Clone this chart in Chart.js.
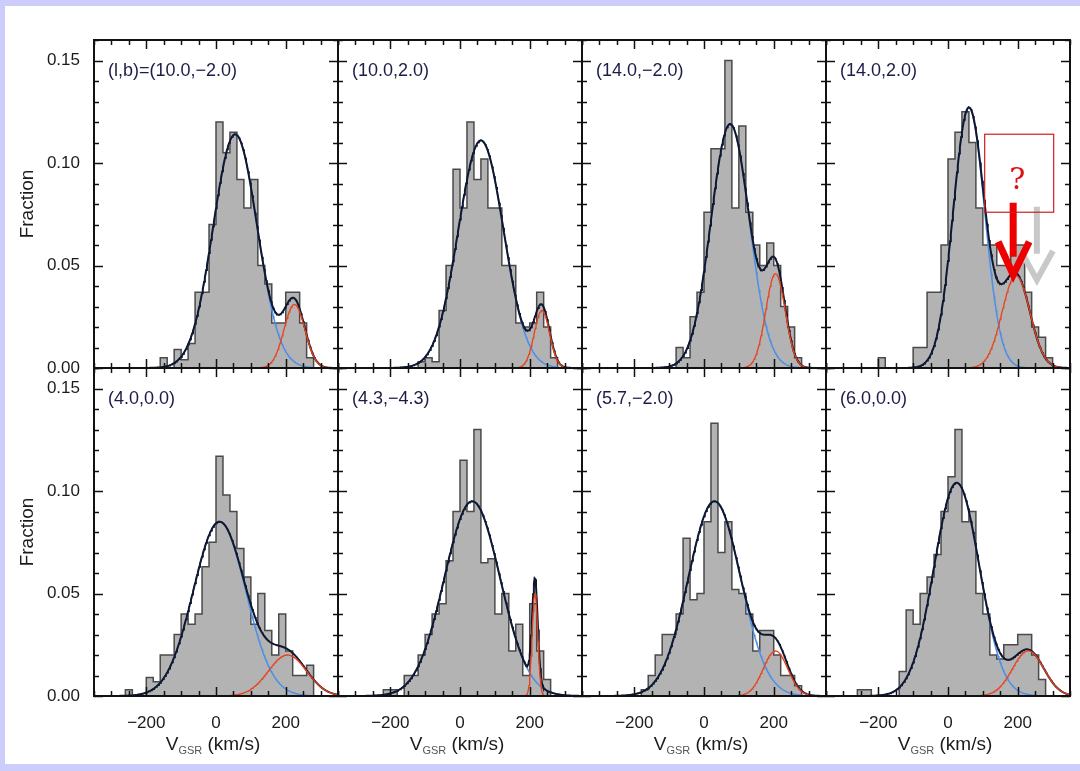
<!DOCTYPE html>
<html>
<head>
<meta charset="utf-8">
<script src="https://cdn.jsdelivr.net/npm/chart.js@4.4.0/dist/chart.umd.min.js"></script>
<style>
html, body { margin: 0; padding: 0; background: #cdcdfb; width: 1080px; height: 771px; overflow: hidden; }
#sheet { position: absolute; left: 5px; top: 6px; width: 1075px; height: 758px; background: #fff; }
canvas { position: absolute; }
</style>
</head>
<body>
<div id="sheet"></div>
<script>
// velocity histograms (fraction per 20 km/s bin) and two-gaussian fits per field
const binWidth = 20;
const fieldLabels = ['(l,b)=(10.0,\u22122.0)', '(10.0,2.0)', '(14.0,\u22122.0)', '(14.0,2.0)',
                     '(4.0,0.0)', '(4.3,\u22124.3)', '(5.7,\u22122.0)', '(6.0,0.0)'];
const histStart = [-160, -120, -100, -200, -260, -220, -180, -260];

const hist1 = [0.005, 0, 0.009, 0.004, 0.012, 0.037, 0.037, 0.07, 0.12, 0.105, 0.115, 0.092, 0.078, 0.092, 0.05, 0.041, 0.022, 0.022, 0.037, 0.037, 0.022, 0.005];
const hist2 = [0.003, 0.005, 0.003, 0.028, 0.05, 0.097, 0.078, 0.12, 0.092, 0.102, 0.078, 0.078, 0.05, 0.05, 0.022, 0.02, 0.022, 0.037, 0.02, 0.005];
const hist3 = [0, 0.01, 0.005, 0.025, 0.037, 0.076, 0.107, 0.107, 0.15, 0.078, 0.118, 0.076, 0.06, 0.05, 0.061, 0.05, 0.03, 0.02, 0.005];
const hist4 = [0.005, 0, 0, 0, 0, 0.01, 0.01, 0.037, 0.037, 0.06, 0.102, 0.115, 0.125, 0.11, 0.078, 0.06, 0.06, 0.05, 0.05, 0.06, 0.06, 0.037, 0.02, 0.015, 0.005];
const hist5 = [0.003, 0, 0, 0.009, 0.007, 0.02, 0.02, 0.03, 0.04, 0.035, 0.04, 0.063, 0.075, 0.117, 0.098, 0.09, 0.072, 0.058, 0.035, 0.05, 0.032, 0.02, 0.04, 0.022, 0.01, 0.01, 0.015];
const hist6 = [0.003, 0.003, 0, 0.01, 0.01, 0.02, 0.03, 0.04, 0.045, 0.066, 0.09, 0.115, 0.09, 0.13, 0.065, 0.067, 0.04, 0.05, 0.022, 0.035, 0.01, 0.045, 0.022, 0.008];
const hist7 = [0.003, 0.01, 0.02, 0.03, 0.03, 0.04, 0.077, 0.047, 0.05, 0.085, 0.133, 0.07, 0.085, 0.052, 0.05, 0.04, 0.022, 0.032, 0.032, 0.02, 0.01, 0.01, 0.005];
const hist8 = [0.003, 0.003, 0, 0, 0, 0, 0.012, 0.042, 0.035, 0.05, 0.058, 0.069, 0.09, 0.107, 0.13, 0.085, 0.09, 0.05, 0.04, 0.02, 0.018, 0.025, 0.025, 0.03, 0.03, 0.02, 0.008];
const hists = [hist1, hist2, hist3, hist4, hist5, hist6, hist7, hist8];

// [peak fraction, mean km/s, sigma km/s]
const bulgeFit = [[0.114, 55, 63], [0.111, 60, 65], [0.119, 75, 55], [0.127, 60, 45],
                  [0.085, 10, 75], [0.095, 35, 80], [0.095, 30, 75], [0.104, 25, 65]];
const fastFit  = [[0.031, 225, 30], [0.028, 235, 22], [0.046, 205, 28], [0.045, 195, 40],
                  [0.020, 205, 55], [0.050, 215, 8], [0.022, 205, 35], [0.022, 230, 45]];

const xTicks = [-200, 0, 200];
const yTicks = [0, 0.05, 0.10, 0.15];

// arrow tips on the (14.0,2.0) field, in km/s and fraction
const questionTip = [187, 0.0455];
const ghostTip = [255, 0.043];

const colLeft = [94, 338, 582, 826];
const rowTop = [40, 368];
const plotW = 244, plotH = 328;
const ink = '#1b1b1b';
const sans = '"Liberation Sans", Arial, sans-serif';

const gauss = (p, v) => p[0] * Math.exp(-0.5 * Math.pow((v - p[1]) / p[2], 2));
const curveX = [];
for (let v = -350; v <= 350; v += 2) curveX.push(v);

const framePlugin = {
  id: 'frame',
  afterDatasetsDraw(chart, args, opts) {
    const { ctx, chartArea: a, scales: { x, y } } = chart;
    ctx.save();
    ctx.strokeStyle = '#111';
    ctx.lineWidth = 1.5;
    ctx.beginPath();
    for (let v = -350; v <= 350; v += 50) {
      const px = Math.round(x.getPixelForValue(v)) + 0.5;
      const len = xTicks.includes(v) ? 9 : 5;
      ctx.moveTo(px, a.bottom); ctx.lineTo(px, a.bottom - len);
      ctx.moveTo(px, a.top); ctx.lineTo(px, a.top + len);
    }
    for (let k = 0; k <= 16; k++) {
      const py = Math.round(y.getPixelForValue(k / 100)) + 0.5;
      const len = k % 5 === 0 ? 9 : 5;
      ctx.moveTo(a.left, py); ctx.lineTo(a.left + len, py);
      ctx.moveTo(a.right, py); ctx.lineTo(a.right - len, py);
    }
    ctx.stroke();
    ctx.lineWidth = 2;
    ctx.strokeRect(a.left, a.top, a.right - a.left, a.bottom - a.top);

    ctx.fillStyle = '#1c1c48';
    ctx.font = '18px ' + sans;
    ctx.textBaseline = 'alphabetic';
    ctx.fillText(opts.label, a.left + 14, a.top + 36);

    if (opts.xTitle) {
      const big = '19px ' + sans, small = '11px ' + sans;
      ctx.fillStyle = ink;
      ctx.font = big; const wV = ctx.measureText('V').width;
      const wU = ctx.measureText(' (km/s)').width;
      ctx.font = small; const wS = ctx.measureText('GSR').width;
      let tx = (a.left + a.right) / 2 - (wV + wS + wU) / 2 - 3;
      const ty = a.bottom + 54;
      ctx.font = big; ctx.fillText('V', tx, ty); tx += wV;
      ctx.font = small; ctx.fillStyle = '#555'; ctx.fillText('GSR', tx, ty + 4); tx += wS;
      ctx.font = big; ctx.fillStyle = ink; ctx.fillText(' (km/s)', tx, ty);
    }
    ctx.restore();
  }
};

// question box and arrows over the high-velocity peak
const markPlugin = {
  id: 'mark',
  afterDraw(chart, args, opts) {
    if (!opts.on) return;
    const { ctx, scales: { x, y } } = chart;
    const rx = x.getPixelForValue(questionTip[0]), ry = y.getPixelForValue(questionTip[1]);
    const gx = x.getPixelForValue(ghostTip[0]), gy = y.getPixelForValue(ghostTip[1]);
    ctx.save();
    ctx.lineCap = 'butt';
    ctx.strokeStyle = '#c8c8c8';
    ctx.lineWidth = 6;
    ctx.beginPath();
    ctx.moveTo(gx, gy - 73); ctx.lineTo(gx, gy - 26);
    ctx.moveTo(gx - 15, gy - 27); ctx.lineTo(gx, gy); ctx.lineTo(gx + 16, gy - 29);
    ctx.stroke();

    ctx.strokeStyle = '#ee0000';
    ctx.lineWidth = 7;
    ctx.beginPath();
    ctx.moveTo(rx, ry - 72); ctx.lineTo(rx, ry - 18);
    ctx.moveTo(rx - 15, ry - 33); ctx.lineTo(rx, ry); ctx.lineTo(rx + 16, ry - 33);
    ctx.stroke();

    ctx.strokeStyle = '#cc1f1f';
    ctx.lineWidth = 1.2;
    ctx.strokeRect(rx - 28.5, ry - 140.5, 69, 78);
    ctx.fillStyle = '#e01010';
    ctx.font = '30px "DejaVu Serif", "Liberation Serif", serif';
    ctx.textAlign = 'center';
    ctx.fillText('?', rx + 4, ry - 86);
    ctx.restore();
  }
};

for (let i = 0; i < 8; i++) {
  const c = i % 4, r = i >> 2;
  const L = colLeft[c], T = rowTop[r];
  const cl = c === 0 ? 0 : L - 4;
  const ct = T - 4;
  const cr = L + plotW + 4;
  // left column keeps room below the plot so the 0.00 label is not cut
  const cb = r === 1 ? 771 : T + plotH + (c === 0 ? 14 : 4);

  const cv = document.createElement('canvas');
  cv.width = cr - cl; cv.height = cb - ct;
  cv.style.left = cl + 'px'; cv.style.top = ct + 'px';
  cv.style.width = (cr - cl) + 'px'; cv.style.height = (cb - ct) + 'px';
  document.body.appendChild(cv);

  const h = hists[i];
  const steps = [{ x: histStart[i], y: 0 }];
  h.forEach((f, k) => steps.push({ x: histStart[i] + k * binWidth, y: f }));
  steps.push({ x: histStart[i] + h.length * binWidth, y: 0 });

  const line = (fn, color, w, order) => ({
    data: curveX.map(v => ({ x: v, y: fn(v) })),
    borderColor: color, borderWidth: w, pointRadius: 0, fill: false, tension: 0, order
  });

  new Chart(cv, {
    type: 'line',
    data: {
      datasets: [
        { data: steps, stepped: 'before', fill: 'origin', backgroundColor: '#b3b3b3',
          borderColor: '#4a4a4a', borderWidth: 1.5, pointRadius: 0, order: 4 },
        line(v => gauss(bulgeFit[i], v), '#4d8fe6', 1.5, 3),
        line(v => gauss(bulgeFit[i], v) + gauss(fastFit[i], v), '#101830', 2, 2),
        line(v => gauss(fastFit[i], v), '#e8401a', 1.3, 1)
      ]
    },
    options: {
      responsive: false,
      animation: false,
      events: [],
      layout: { padding: { top: 4, right: 4, left: 0, bottom: 0 } },
      plugins: {
        legend: { display: false },
        tooltip: { enabled: false },
        frame: { label: fieldLabels[i], xTitle: r === 1 },
        mark: { on: i === 3 }
      },
      scales: {
        x: {
          type: 'linear', min: -350, max: 350,
          grid: { display: false }, border: { display: false },
          afterBuildTicks: s => { s.ticks = xTicks.map(v => ({ value: v })); },
          ticks: { display: r === 1, autoSkip: false, maxRotation: 0, padding: 9,
                   color: ink, font: { family: sans, size: 17 },
                   callback: v => v < 0 ? '\u2212' + Math.abs(v) : String(v) },
          afterFit: s => {
            s.height = cb - (T + plotH);
            s.paddingLeft = 0; s.paddingRight = 0;
          }
        },
        y: {
          min: 0, max: 0.16,
          grid: { display: false }, border: { display: false },
          afterBuildTicks: s => { s.ticks = yTicks.map(v => ({ value: v })); },
          ticks: { display: c === 0, padding: 6, color: ink, font: { family: sans, size: 17 },
                   callback: v => v.toFixed(2) },
          title: { display: c === 0, text: 'Fraction', color: ink, padding: { top: 16, bottom: 0 },
                   font: { family: sans, size: 19 } },
          afterFit: s => {
            s.width = L - cl;
            s.paddingTop = 0; s.paddingBottom = 0;
          }
        }
      }
    },
    plugins: [framePlugin, markPlugin]
  });
}
</script>
</body>
</html>
